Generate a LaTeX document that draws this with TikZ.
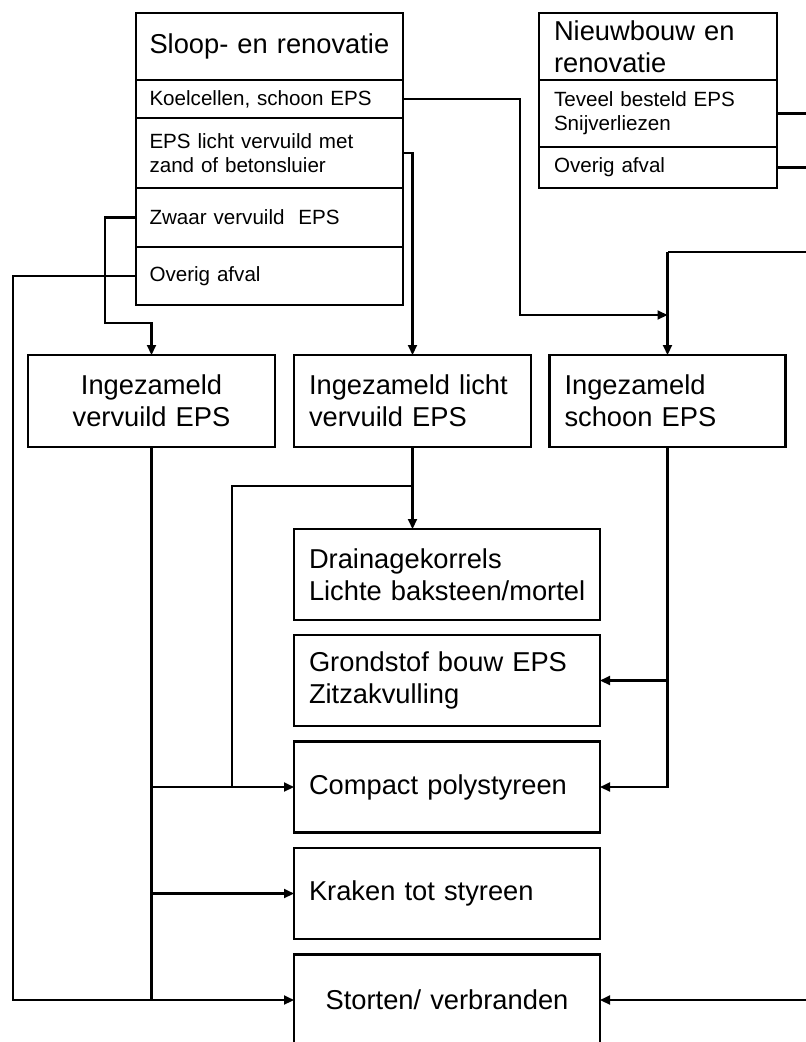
\documentclass[tikz,border=0pt]{standalone}
\usepackage{fontspec}
\setmainfont{Liberation Sans}
\usetikzlibrary{shapes,arrows.meta,positioning}
\newcommand{\groot}{\fontsize{27.3}{32}\selectfont}
\newcommand{\klein}{\fontsize{20.6}{24}\selectfont}
\tikzset{%
  block/.style    = {draw, line width=2.6pt, rectangle, outer sep=0pt,
    inner xsep=15pt, inner ysep=0pt, align=left, font=\groot},
  rij/.style      = {block, font=\klein}, % Row of a source box
  slooprij/.style = {text width=240pt, inner xsep=13.5pt},
  nieuwrij/.style = {text width=208pt},
  kolom/.style    = {block, text width=276pt, minimum height=91pt}, % Product
  punt/.style     = {coordinate} % Junction
}

\begin{document}
\begin{tikzpicture}[x=1pt, y=-1pt, line width=2.1pt,
  >={Triangle[length=10pt, width=9pt]}]
\useasboundingbox (0,0) rectangle (806,1042);
\clip (0,0) rectangle (806,1042);
\draw
	% Source boxes :
	node at (269.5,46.5) [block, slooprij, minimum height=67pt] (sloop) {Sloop- en renovatie}
	node [rij, slooprij, minimum height=38pt, below=0pt of sloop] (koel) {Koelcellen, schoon EPS}
	node [rij, slooprij, minimum height=70pt, below=0pt of koel] (lichtrij) {EPS licht vervuild met\\zand of betonsluier}
	node [rij, slooprij, minimum height=59pt, below=0pt of lichtrij] (zwaar) {Zwaar vervuild~ EPS}
	node [rij, slooprij, minimum height=58pt, below=0pt of zwaar] (overig1) {Overig afval}
	node at (658,46.5) [block, nieuwrij, minimum height=67pt] (nieuw) {Nieuwbouw en\\renovatie}
	node [rij, nieuwrij, minimum height=67pt, below=0pt of nieuw] (teveel) {Teveel besteld EPS\\Snijverliezen}
	node [rij, nieuwrij, minimum height=41pt, below=0pt of teveel] (overig2) {Overig afval};
	% Collected EPS :
\draw
	node at (151.5,401) [block, text width=217pt, minimum height=92pt, align=center] (vervuild) {Ingezameld\\vervuild EPS}
	node at (412.5,401) [block, text width=207pt, minimum height=92pt] (licht) {Ingezameld licht\\vervuild EPS}
	node at (667.5,401) [block, text width=206pt, minimum height=92pt] (schoon) {Ingezameld\\schoon EPS};
	% Products :
\draw
	node at (447,574.5) [kolom] (drain) {Drainagekorrels\\\mbox{Lichte baksteen/mortel}}
	node at (447,680.5) [kolom] (grond) {Grondstof bouw EPS\\Zitzakvulling}
	node at (447,787) [kolom] (compact) {Compact polystyreen}
	node at (447,893.5) [kolom] (kraken) {Kraken tot styreen}
	node at (447,1000) [kolom, align=center] (storten) {Storten/ verbranden};
	% Junctions and free ends
\draw
	node at (667.5,252) [punt] (k1) {}
	node at (667.5,315) [punt] (k2) {}
	node at (412.5,486) [punt] (tak) {}
	node at (806,252) [punt] (rechts1) {}
	node at (806,115) [punt] (rechts2) {}
	node at (806,169) [punt] (rechts3) {}
	node at (806,1000) [punt] (rechts4) {};
	% Joining the boxes
	\draw (rechts1) -- (k1);
	\draw[->] (k1) -- (schoon.north);
	\draw[->] (koel.east) -- (520,99) |- (k2);
	\draw[->] (lichtrij.east) -| (licht.north);
	\draw[->] (zwaar.west) -| (105,323) -| (vervuild.north);
	\draw[->] (overig1.west) -| (13,1000) -- (storten.west);
	\draw (vervuild.south) -- (vervuild.south |- storten.west);
	\draw[->] (vervuild.south |- compact.west) -- (compact.west);
	\draw[->] (vervuild.south |- kraken.west) -- (kraken.west);
	\draw[->] (licht.south) -- (licht.south |- drain.north);
	\draw (tak) -| (232,787);
	\draw[->] (schoon.south) |- (compact.east);
	\draw[->] (schoon.south |- grond.east) -- (grond.east);
	\draw[->] (rechts4) -- (storten.east);
	\draw[line width=3.3pt] (teveel.east) -- (teveel.east -| rechts2);
	\draw (overig2.east) -- (overig2.east -| rechts3);
\end{tikzpicture}
\end{document}
